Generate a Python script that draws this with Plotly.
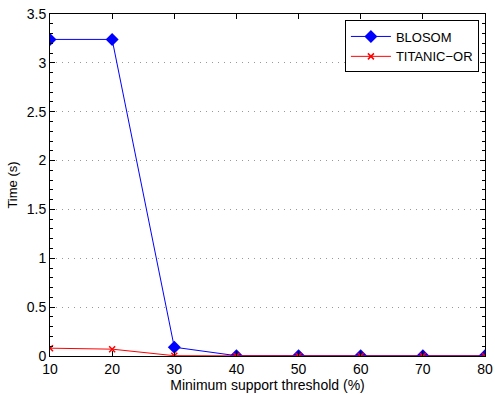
import plotly.graph_objects as go

x_vals = [10, 20, 30, 40, 50, 60, 70, 80]
blosom = [3.24, 3.24, 0.09, 0.003, 0.003, 0.003, 0.003, 0.003]
titanic = [0.08, 0.07, 0.003, 0.0, 0.0, 0.0, 0.0, 0.0]
y_ticks = [0, 0.5, 1, 1.5, 2, 2.5, 3, 3.5]
y_tick_labels = ["0", "0.5", "1", "1.5", "2", "2.5", "3", "3.5"]

fig = go.Figure()
fig.add_trace(go.Scatter(x=x_vals, y=blosom, mode="lines+markers", name="BLOSOM",
                         line=dict(color="#0000ff", width=1),
                         marker=dict(symbol="diamond", size=10, color="#0000ff")))
fig.add_trace(go.Scatter(x=x_vals, y=titanic, mode="lines+markers", name="TITANIC\u2212OR",
                         line=dict(color="#ff0000", width=1),
                         marker=dict(symbol="x-thin", size=6, line=dict(color="#ff0000", width=1.5), color="#ff0000")))

fig.update_layout(
    width=495, height=394,
    margin=dict(l=50, r=10, t=14, b=38, autoexpand=False),
    paper_bgcolor="white", plot_bgcolor="white",
    font=dict(family="Liberation Sans, Arial, sans-serif", size=13, color="black"),
    showlegend=True,
    legend=dict(x=0.986, y=0.981, xanchor="right", yanchor="top",
                bordercolor="black", borderwidth=1, bgcolor="white",
                font=dict(size=13), tracegroupgap=0, itemwidth=40),
)
fig.update_xaxes(range=[10, 80], dtick=10, showgrid=False, zeroline=False, automargin=False,
                 showline=True, linecolor="black", linewidth=1, mirror="ticks",
                 ticks="inside", ticklen=5, tickcolor="black", ticklabeloverflow="allow",
                 title=dict(text="Minimum support threshold (%)", font=dict(size=14), standoff=2),
                 tickfont=dict(size=14))
fig.update_yaxes(range=[0, 3.5], tickmode="array", tickvals=y_ticks, ticktext=y_tick_labels,
                 showgrid=True, gridcolor="#999999", automargin=False,
                 griddash="1px,5px", gridwidth=1, zeroline=False,
                 showline=True, linecolor="black", linewidth=1, mirror="ticks",
                 ticks="inside", ticklen=5, tickcolor="black", ticklabeloverflow="allow",
                 minor=dict(dtick=0.1, tick0=0, ticks="inside", ticklen=3, tickcolor="black", showgrid=False),
                 title=dict(text="Time (s)", font=dict(size=13), standoff=6),
                 tickfont=dict(size=14))

fig.write_html("out.html", config={"displayModeBar": False},
               post_script="document.body.style.margin='0';document.body.style.overflow='hidden';")
